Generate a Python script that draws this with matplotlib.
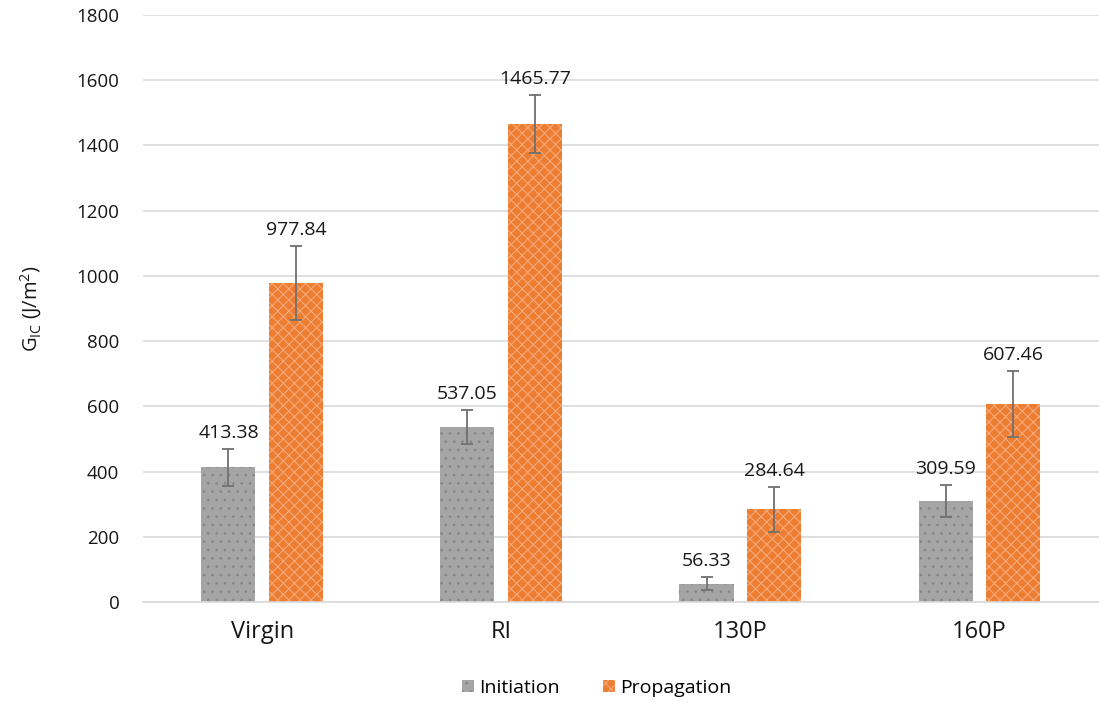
import matplotlib
matplotlib.use("Agg")
import matplotlib.pyplot as plt
import numpy as np

plt.rcParams['font.family'] = ['Open Sans', 'DejaVu Sans']
plt.rcParams['mathtext.fontset'] = 'custom'
plt.rcParams['mathtext.rm'] = 'Open Sans'
plt.rcParams['mathtext.it'] = 'Open Sans:italic'
plt.rcParams['hatch.linewidth'] = 0.8

categories = ["Virgin", "RI", "130P", "160P"]
initiation = [413.38, 537.05, 56.33, 309.59]
propagation = [977.84, 1465.77, 284.64, 607.46]
initiation_err = [57, 52, 20, 50]
propagation_err = [114, 89, 69, 101]
y_ticks = [0, 200, 400, 600, 800, 1000, 1200, 1400, 1600, 1800]

fig = plt.figure(figsize=(10.99, 7.02), dpi=100)
ax = fig.add_axes([0.130, 0.1425, 0.870, 0.8361])

x = np.arange(len(categories))
width = 0.226
offset = 0.142

gray = "#A5A5A5"
orange = "#ED7D31"
err_color = "#707070"
text_color = "#171717"

b1 = ax.bar(x - offset, initiation, width, color=gray, edgecolor="#888888",
            hatch="..", linewidth=0, label="Initiation", zorder=2)
b2 = ax.bar(x + offset, propagation, width, color=orange, edgecolor="#F5A97A",
            hatch="xxx", linewidth=0, label="Propagation", zorder=2)

ax.errorbar(x - offset, initiation, yerr=initiation_err, fmt="none",
            ecolor=err_color, elinewidth=1.3, capsize=4, capthick=1.3, zorder=3)
ax.errorbar(x + offset, propagation, yerr=propagation_err, fmt="none",
            ecolor=err_color, elinewidth=1.3, capsize=4, capthick=1.3, zorder=3)

for xi, v, e in zip(x - offset, initiation, initiation_err):
    ax.annotate(f"{v:.2f}", (xi, v + e), xytext=(0, 5), textcoords="offset points",
                ha="center", va="bottom", fontsize=14, color=text_color)
for xi, v, e in zip(x + offset, propagation, propagation_err):
    ax.annotate(f"{v:.2f}", (xi, v + e), xytext=(0, 5), textcoords="offset points",
                ha="center", va="bottom", fontsize=14, color=text_color)

ax.set_xlim(-0.5, len(categories) - 0.5)
ax.set_ylim(0, 1800)
ax.set_yticks(y_ticks)
ax.set_xticks(x)
ax.set_xticklabels(categories, fontsize=17, color=text_color)
ax.tick_params(axis="y", labelsize=13.5, colors=text_color, length=0, pad=17)
ax.tick_params(axis="x", length=0, pad=13)

ax.grid(axis="y", color="#D9D9D9", linewidth=1.2, zorder=0)
ax.set_axisbelow(True)
for s in ["top", "right", "left"]:
    ax.spines[s].set_visible(False)
ax.spines["bottom"].set_color("#D9D9D9")
ax.spines["bottom"].set_linewidth(1.2)

ax.set_ylabel(r"G$_{\mathrm{IC}}$ (J/m$^2$)", fontsize=14.5, color=text_color)
ax.yaxis.set_label_coords(-0.103, 0.5)

fig.legend(handles=[b1, b2], loc="center", bbox_to_anchor=(0.543, 0.02),
           ncol=2, frameon=False, fontsize=14, handlelength=0.6, handleheight=0.6,
           handletextpad=0.3, columnspacing=2.2)

fig.savefig("out.png", dpi=100)
